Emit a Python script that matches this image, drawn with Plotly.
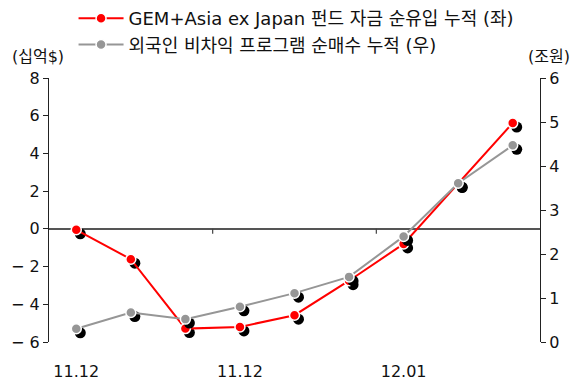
import plotly.graph_objects as go

categories = list(range(9))
tick_positions = [0, 3, 6]
tick_labels = ["11.12", "11.12", "12.01"]
fund_flow = [-0.05, -1.61, -5.29, -5.2, -4.58, -2.75, -0.8, 2.4, 5.61]
foreign_prog = [0.30, 0.67, 0.52, 0.80, 1.11, 1.48, 2.40, 3.61, 4.47]
boundaries = [2.5, 5.5]

name_red = "GEM+Asia ex Japan 펀드 자금 순유입 누적 (좌)"
name_gray = "외국인 비차익 프로그램 순매수 누적 (우)"

FONT = "DejaVu Sans, Noto Sans CJK KR, sans-serif"
RED = "#ff0000"
GRAY = "#969696"

# shadow offsets (px -> data)
dx = 4 / 54.5
dy_left = 4 / 18.86
dy_right = 4 / 44.0

fig = go.Figure()
# shadows
fig.add_trace(go.Scatter(x=[c + dx for c in categories], y=[v - dy_left for v in fund_flow],
                         mode="markers", marker=dict(color="black", size=11),
                         showlegend=False, hoverinfo="skip", yaxis="y"))
fig.add_trace(go.Scatter(x=[c + dx for c in categories], y=[v - dy_right for v in foreign_prog],
                         mode="markers", marker=dict(color="black", size=11),
                         showlegend=False, hoverinfo="skip", yaxis="y2"))
fig.add_trace(go.Scatter(x=categories, y=foreign_prog, name=name_gray, mode="lines+markers",
                         line=dict(color=GRAY, width=2),
                         marker=dict(color=GRAY, size=10, line=dict(color="white", width=1.5)),
                         yaxis="y2"))
fig.add_trace(go.Scatter(x=categories, y=fund_flow, name=name_red, mode="lines+markers",
                         line=dict(color=RED, width=2),
                         marker=dict(color=RED, size=10, line=dict(color="white", width=1.5)),
                         yaxis="y"))

shapes = []
for b in boundaries:
    shapes.append(dict(type="line", xref="x", yref="y", x0=b, x1=b, y0=0, y1=-5 / 18.86,
                       line=dict(color="#444444", width=1.2)))

fig.update_layout(
    width=575, height=380,
    margin=dict(l=49, r=35, t=78, b=38, autoexpand=False),
    paper_bgcolor="white", plot_bgcolor="white",
    font=dict(family=FONT, size=16, color="#111111"),
    showlegend=True,
    legend=dict(x=0.05, y=1.005, xref="paper", yref="container", xanchor="left", yanchor="top",
                traceorder="reversed",
                font=dict(size=18), itemwidth=45, bgcolor="rgba(0,0,0,0)",
                tracegroupgap=0),
    xaxis=dict(range=[-0.5, 8.5], tickmode="array", tickvals=tick_positions, ticktext=tick_labels,
               showline=False, showgrid=False, zeroline=False, ticks="", ticklabelstandoff=18),
    yaxis=dict(range=[-6, 8], showline=True, linecolor="#222222", linewidth=1.2,
               ticks="outside", ticklen=5, tickcolor="#222222", showgrid=False,
               zeroline=True, zerolinecolor="#555555", zerolinewidth=1.5,
               tickvals=[-6, -4, -2, 0, 2, 4, 6, 8],
               ticktext=["− 6", "− 4", "− 2", "0", "2", "4", "6", "8"]),
    yaxis2=dict(range=[0, 6], dtick=1, overlaying="y", side="right", showline=True,
                linecolor="#222222", linewidth=1.2, ticks="outside", ticklen=5,
                tickcolor="#222222", showgrid=False, zeroline=False),
    shapes=shapes,
    annotations=[
        dict(text="(십억$)", xref="paper", yref="paper", x=-0.08, y=1.08, xanchor="left",
             yanchor="middle", showarrow=False, font=dict(size=16)),
        dict(text="(조원)", xref="paper", yref="paper", x=1.065, y=1.08, xanchor="right",
             yanchor="middle", showarrow=False, font=dict(size=16)),
    ],
)

fig.write_html("out.html")
